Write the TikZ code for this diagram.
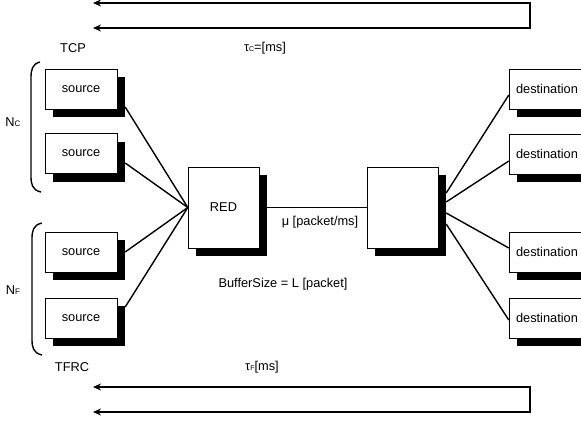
\documentclass[tikz,border=0pt]{standalone}
\usepackage{fontspec}
\setmainfont{Liberation Sans}
\usepackage{tikz}
\usetikzlibrary{
    arrows.meta,
    calc,
    positioning,
    shadows
}
\newcommand{\lbl}{\fontsize{12.8}{14}\selectfont}
\newcommand{\sub}[1]{{\fontsize{7}{8}\selectfont #1}}
\tikzstyle{feedback}=[line width=1.7pt,<->,>={Stealth[length=8pt,width=7pt]}]

\begin{document}
\begin{tikzpicture}[
    x=1pt, y=-1pt,
    host/.style={
        rectangle,
        draw=black,
        fill=white,
        minimum width=72pt,
        minimum height=40pt,
        inner sep=0pt,
        font=\lbl,
        drop shadow={shadow xshift=8pt,shadow yshift=-8pt,fill=black,opacity=1}
    },
    router/.style={
        host,
        minimum width=71pt,
        minimum height=81pt
    },
    link/.style={line width=1.4pt},
    brace/.style={line width=1.4pt}
]
\useasboundingbox (0,0) rectangle (581,421);

\node[host] (src1) at (81,89) {source};
\node[host] (src2) at (81,153.5) {source};
\node[host] (src3) at (81,252) {source};
\node[host] (src4) at (81,318) {source};

\node[router] (red) at (223.5,207.5) {RED};
\node[router] (sink) at (402.5,207.5) {};

\node[host,minimum width=76pt] (dst1) at (547,89) {destination};
\node[host,minimum width=76pt] (dst2) at (547,154) {destination};
\node[host,minimum width=76pt] (dst3) at (547,252) {destination};
\node[host,minimum width=76pt] (dst4) at (547,318) {destination};

\node[font=\lbl] (tcp) at (73,48) {TCP};
\node[font=\lbl] (tfrc) at (72,367) {TFRC};
\node[font=\lbl] (nc) at (13,122) {N{\fontsize{8}{9}\selectfont C}};
\node[font=\lbl] (nf) at (13,290) {N{\fontsize{8}{9}\selectfont F}};
\node[font=\lbl] (tauc) at (265,48) {τ\sub{C}=[ms]};
\node[font=\lbl] (tauf) at (262,367) {τ\sub{F}[ms]};
\node[font=\lbl] (bufsize) at (283,284) {BufferSize = L [packet]};

% sources to RED
\draw[link] ($(src1.east)+(8,18)$) -- (red.west);
\draw[link] ($(src2.east)+(8,9.5)$) -- (red.west);
\draw[link] ($(src3.east)+(8,0)$) -- (red.west);
\draw[link] ($(src4.east)+(8,-11)$) -- (red.west);

% bottleneck
\draw[link] (red.east) -- node[below=5pt,xshift=7pt,font=\lbl]{μ [packet/ms]} (sink.west);

% sink to destinations
\draw[link] ($(sink.east)+(8,-14.5)$) -- ($(dst1.west)+(0,6)$);
\draw[link] ($(sink.east)+(8,-5.5)$) -- ($(dst2.west)+(0,7)$);
\draw[link] ($(sink.east)+(8,5.5)$) -- ($(dst3.west)+(0,-4)$);
\draw[link] ($(sink.east)+(8,16.5)$) -- ($(dst4.west)+(0,2)$);

% groups
\draw[brace] (40,62) .. controls (32,64) and (31,70) .. (31,78) -- (31,176)
    .. controls (31,184) and (32,190) .. (41,192);
\draw[brace] (42,223) .. controls (33,225) and (32,231) .. (32,239) -- (32,339)
    .. controls (32,347) and (33,353) .. (42,355);

% feedback paths
\coordinate (tcpa) at (93,3);
\coordinate (tcpb) at (93,28);
\coordinate (tfrca) at (93,387);
\coordinate (tfrcb) at (93,412);
\draw[feedback] (tcpa) -- ++(437,0) |- (tcpb);
\draw[feedback] (tfrca) -- ++(437,0) |- (tfrcb);
\end{tikzpicture}
\end{document}
